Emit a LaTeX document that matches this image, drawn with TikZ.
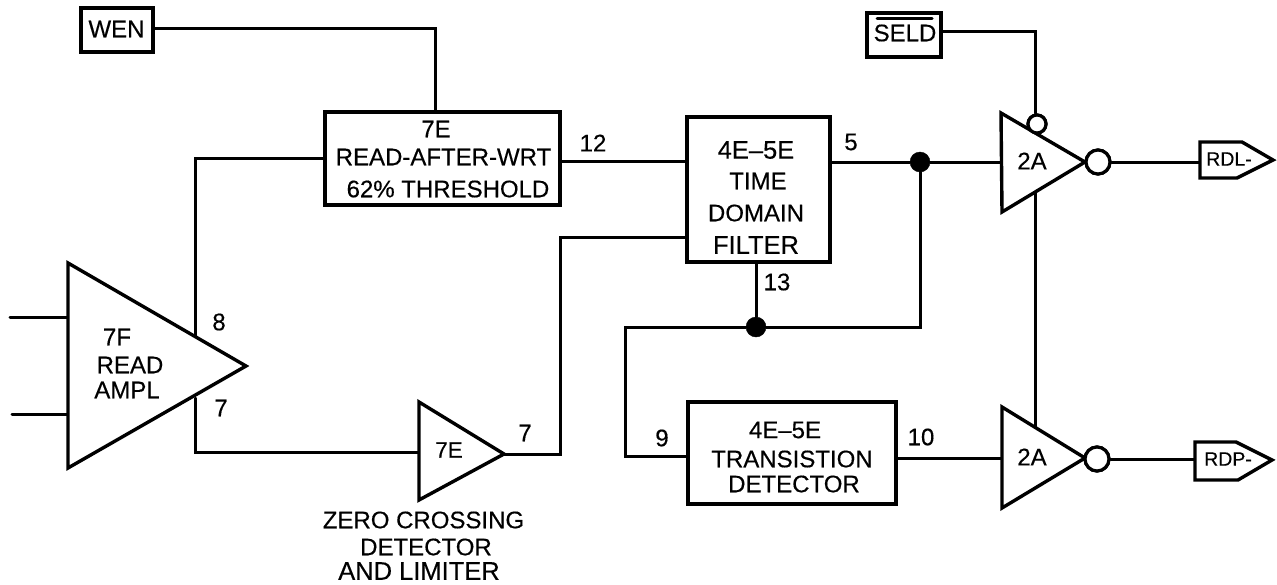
\documentclass[tikz,border=0pt]{standalone}
\usepackage{fontspec}
\setmainfont[FakeBold=0.35]{Liberation Sans}
\begin{document}
\begin{tikzpicture}[x=1pt,y=-1pt,
  wire/.style={line width=3pt,line join=miter,line cap=round},
  part/.style={draw,line width=3.4pt,fill=white,inner sep=0pt,line join=miter},
  lbl/.style={inner sep=0pt,align=center,font=\fontsize{24}{28}\selectfont},
  wide/.style={inner sep=0pt,align=center,font=\fontsize{25.5}{28}\selectfont},
  mid/.style={inner sep=0pt,font=\fontsize{22.5}{26}\selectfont},
  small/.style={inner sep=0pt,font=\fontsize{19.5}{22}\selectfont},
  dot/.style={circle,fill=black,draw=black,inner sep=0pt,minimum size=20pt},
  bubble/.style={circle,draw,line width=3.2pt,fill=white,inner sep=0pt}]
\useasboundingbox (0,0) rectangle (1277,584);
% boxes
\node[part,minimum width=72pt,minimum height=44pt] (wen) at (117,30) {};
\node[part,minimum width=74pt,minimum height=44pt] (seld) at (904,35) {};
\node[part,minimum width=235pt,minimum height=93pt] (raw) at (442.5,158.5) {};
\node[part,minimum width=143pt,minimum height=145pt] (tdf) at (758.5,189.5) {};
\node[part,minimum width=208pt,minimum height=102pt] (trd) at (792,453) {};
% junction and corner coordinates
\coordinate (ampTop) at (195,337);
\coordinate (ampBot) at (195,398);
\coordinate (in1) at (10,317);
\coordinate (in1e) at (68,317);
\coordinate (in2) at (12,414);
\coordinate (in2e) at (68,414);
\coordinate (zcdIn) at (419,452);
\coordinate (zcdOut) at (504,454);
\coordinate (gaIn) at (1001,162);
\coordinate (gbIn) at (1002,458);
\coordinate (gaBot) at (1035,193);
\coordinate (gbTop) at (1035,427);
\coordinate (tagA) at (1200,162);
\coordinate (tagB) at (1195,459);
\node[dot] (j1) at (920,162) {};
\node[dot] (j2) at (756,327) {};
\node[bubble,minimum size=18pt] (ba) at (1037,124) {};
\node[bubble,minimum size=24pt] (oa) at (1098,162) {};
\node[bubble,minimum size=24pt] (ob) at (1097,459) {};
% connectors
\draw[wire] (wen.east |- 0,28) -- (435,28) -- (raw.north -| 435,0);
\draw[wire] (seld.east |- 0,31) -- (1035,31) -- (ba.north -| 1035,0);
\draw[wire] (raw.west |- 0,158) -- (195,158) -- (ampTop);
\draw[wire] (ampBot) -- (195,452) -- (zcdIn);
\draw[wire] (in1) -- (in1e);
\draw[wire] (in2) -- (in2e);
\draw[wire] (zcdOut) -- (560,454) -- (560,237) -- (tdf.west |- 0,237);
\draw[wire] (raw.east |- 0,161) -- (tdf.west |- 0,161);
\draw[wire] (tdf.east |- 0,162) -- (j1) -- (gaIn);
\draw[wire] (j1) -- (920,327) -- (j2);
\draw[wire] (tdf.south -| j2) -- (j2);
\draw[wire] (j2) -- (625,327) -- (625,456) -- (trd.west |- 0,456);
\draw[wire] (trd.east |- 0,458) -- (gbIn);
\draw[wire] (gaBot) -- (gbTop);
\draw[wire] (oa) -- (tagA);
\draw[wire] (ob) -- (tagB);
% triangles
\draw[part] (68,263) -- (246,366) -- (68,468) -- cycle;
\draw[part] (419,402) -- (504,454) -- (419,500) -- cycle;
\draw[part] (1001,113) -- (1085,162) -- (1002,212) -- cycle;
\draw[part] (1002,407) -- (1085,458) -- (1002,508) -- cycle;
% redraw bubbles above triangles
\node[bubble,minimum size=18pt] at (ba) {};
\node[bubble,minimum size=24pt] at (oa) {};
\node[bubble,minimum size=24pt] at (ob) {};
% tags
\draw[part] (1200,142) -- (1242,142) -- (1273,160) -- (1237,178) -- (1200,178) -- cycle;
\draw[part] (1195,442) -- (1236,442) -- (1272,460) -- (1238,480) -- (1195,480) -- cycle;
% text
\node[lbl] (t1) at (116.5,29) {WEN};
\coordinate (olA) at (877,18);
\coordinate (olB) at (932,18);
\draw[wire] (olA) -- (olB);
\node[lbl] (t2) at (905,33) {SELD};
\node[lbl] (t3) at (436,129) {7E};
\node[lbl] (t4) at (443.5,157) {READ-AFTER-WRT};
\node[lbl] (t5) at (448,189) {62\% THRESHOLD};
\node[wide] (t6) at (756,150) {4E--5E};
\node[lbl] (t7) at (758,181) {TIME};
\node[lbl] (t8) at (756,213) {DOMAIN};
\node[wide] (t9) at (756,245) {FILTER};
\node[lbl] (t10) at (785,430) {4E--5E};
\node[lbl] (t11) at (792,459) {TRANSISTION};
\node[lbl] (t12) at (794,484) {DETECTOR};
\node[lbl] (t13) at (117,337) {7F};
\node[lbl] (t14) at (130,365) {READ};
\node[lbl] (t15) at (127,390) {AMPL};
\node[mid] (t16) at (449,450) {7E};
\node[lbl] (t17) at (423.5,520) {ZERO CROSSING};
\node[lbl] (t18) at (426,547) {DETECTOR};
\node[wide] (t19) at (419,571) {AND LIMITER};
\node[lbl] (t20) at (1032,161) {2A};
\node[lbl] (t21) at (1032,457) {2A};
\node[small] (t22) at (1229,159) {RDL-};
\node[small] (t23) at (1228,459) {RDP-};
\node[lbl] (n1) at (593,143) {12};
\node[lbl] (n2) at (851,142) {5};
\node[lbl] (n3) at (777,282) {13};
\node[lbl] (n4) at (219,322) {8};
\node[lbl] (n5) at (221,408) {7};
\node[lbl] (n6) at (525,433) {7};
\node[lbl] (n7) at (662,438) {9};
\node[lbl] (n8) at (921,437) {10};
\end{tikzpicture}
\end{document}
